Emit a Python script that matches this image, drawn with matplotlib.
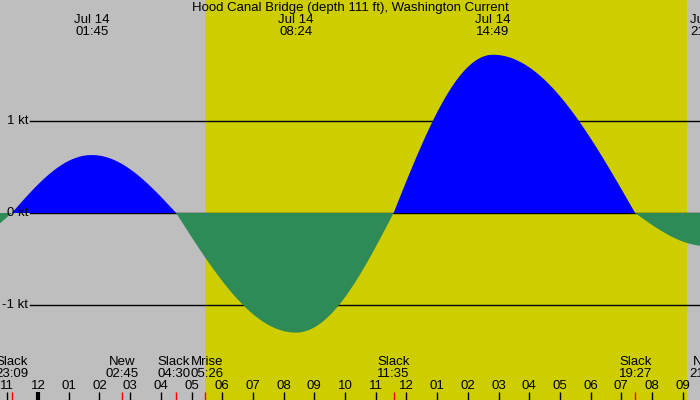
import numpy as np
import matplotlib
matplotlib.use("Agg")
import matplotlib.pyplot as plt

plt.rcParams["font.family"] = ["Liberation Sans", "DejaVu Sans"]

title = "Hood Canal Bridge (depth 111 ft), Washington Current"

# current events, hours from Jul 14 00:00 (slack / max flood / max ebb)
event_hours = [-3.0, -0.85, 1.75, 4.5, 8.4, 11.583, 14.817, 19.45, 21.8, 24.6]
event_knots = [-0.40, 0.0, 0.63, 0.0, -1.30, 0.0, 1.72, 0.0, -0.36, 0.0]

# labels over the maxima
peak_hours = [1.75, 8.4, 14.817, 21.8]
peak_labels = ["Jul 14\n01:45", "Jul 14\n08:24", "Jul 14\n14:49", "Jul 14\n21:48"]

# labels under the chart (slack, moon)
mark_hours = [-0.85, 2.75, 4.5, 5.433, 11.583, 19.45, 21.75]
mark_labels = ["Slack\n23:09", "New\n02:45", "Slack\n04:30", "Mrise\n05:26",
               "Slack\n11:35", "Slack\n19:27", "New\n21:45"]

sunrise = 5.433
sunset = 21.14

hour_ticks = list(range(-1, 22))
knot_ticks = [-1, 0, 1]

GRAY = "#bebebe"
DAY = "#cdcd00"
FLOOD = "#0000ff"
EBB = "#2e8b57"

PX_HOUR = 30.7
x_min, x_max = -38 / PX_HOUR, (700 - 38) / PX_HOUR
y_min, y_max = -(400 - 213) / 92, 213 / 92


def current_at(t):
    # quarter-sine between a slack and a maximum
    eh = np.array(event_hours)
    ek = np.array(event_knots)
    i = np.clip(np.searchsorted(eh, t) - 1, 0, len(eh) - 2)
    s = (t - eh[i]) / (eh[i + 1] - eh[i])
    a, b = ek[i], ek[i + 1]
    return np.where(a == 0, b * np.sin(np.pi / 2 * s), a * np.cos(np.pi / 2 * s))


fig = plt.figure(figsize=(7, 4), dpi=100, facecolor=GRAY)
ax = fig.add_axes([0, 0, 1, 1])
ax.set_facecolor(GRAY)
ax.set_xlim(x_min, x_max)
ax.set_ylim(y_min, y_max)
ax.axis("off")

ax.axvspan(sunrise, sunset, color=DAY, lw=0, zorder=0)

for k in knot_ticks:
    ax.axhline(k, xmin=30 / 700, xmax=1, color="black", lw=1, zorder=1)
    ax.text(x_min + 28 / PX_HOUR, k, f"{k} kt", ha="right", va="center", fontsize=9.5, zorder=3)

t = np.linspace(x_min, x_max, 2000)
v = current_at(t)
ax.fill_between(t, v, 0, where=v >= 0, color=FLOOD, lw=0, interpolate=True, zorder=2)
ax.fill_between(t, v, 0, where=v <= 0, color=EBB, lw=0, interpolate=True, zorder=2)

xt = ax.get_xaxis_transform()

ax.text(0.5, 1 - 8 / 400, title, transform=ax.transAxes, ha="center", va="center", fontsize=9.5)
for h, lab in zip(peak_hours, peak_labels):
    ax.text(h, 1 - 26 / 400, lab, transform=xt, ha="center", va="center",
            fontsize=9.5, linespacing=1.05)

# nudge neighbouring labels apart a little, as the reference does
nudge = {"Slack\n04:30": -2.5 / PX_HOUR, "Mrise\n05:26": 2.5 / PX_HOUR}
for h, lab in zip(mark_hours, mark_labels):
    ax.text(h + nudge.get(lab, 0), 1 - 368 / 400, lab, transform=xt, ha="center",
            va="center", fontsize=9.5, linespacing=1.05)
    ax.vlines(h, 0, 8 / 400, transform=xt, color="red", lw=1)

for h in hour_ticks:
    ax.text(h, 1 - 386 / 400, f"{(h % 12) or 12:02d}", transform=xt,
            ha="center", va="center", fontsize=9.5)
    ax.vlines(h, 0, 8 / 400, transform=xt, color="black", lw=3 if h == 0 else 1)

fig.savefig("out.png", dpi=100, facecolor=GRAY)
